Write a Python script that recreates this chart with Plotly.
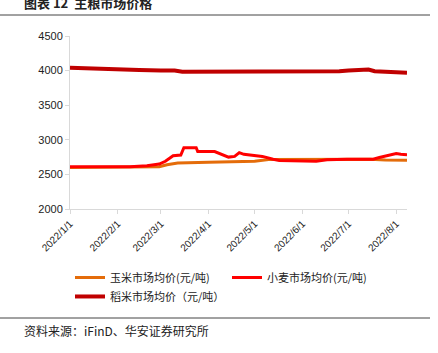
import plotly.graph_objects as go

tick_dates = ["2022-01-01", "2022-02-01", "2022-03-01", "2022-04-01",
              "2022-05-01", "2022-06-01", "2022-07-01", "2022-08-01"]
tick_labels = ["2022/1/1", "2022/2/1", "2022/3/1", "2022/4/1",
               "2022/5/1", "2022/6/1", "2022/7/1", "2022/8/1"]

corn_dates = ["2022-01-01", "2022-02-20", "2022-02-28", "2022-03-05", "2022-03-12",
              "2022-04-01", "2022-05-01", "2022-05-10", "2022-06-01", "2022-07-01",
              "2022-07-15", "2022-07-25", "2022-08-08"]
corn_vals = [2600, 2600, 2610, 2640, 2665, 2675, 2690, 2715, 2720, 2720, 2720, 2708, 2705]

wheat_dates = ["2022-01-01", "2022-02-09", "2022-02-20", "2022-02-28", "2022-03-04",
               "2022-03-09", "2022-03-14", "2022-03-16", "2022-03-24", "2022-03-25",
               "2022-04-05", "2022-04-10", "2022-04-14", "2022-04-18", "2022-04-21",
               "2022-04-24", "2022-04-30", "2022-05-06", "2022-05-13", "2022-05-17",
               "2022-06-10", "2022-06-17", "2022-06-30", "2022-07-17", "2022-07-21",
               "2022-07-28", "2022-08-01", "2022-08-04", "2022-08-08"]
wheat_vals = [2610, 2610, 2625, 2650, 2690, 2770, 2780, 2885, 2885, 2830,
              2830, 2790, 2750, 2760, 2815, 2790, 2770, 2760, 2720, 2700,
              2690, 2710, 2720, 2720, 2745, 2780, 2800, 2790, 2785]

rice_dates = ["2022-01-01", "2022-01-15", "2022-02-01", "2022-02-15", "2022-03-01",
              "2022-03-10", "2022-03-15", "2022-04-01", "2022-04-15", "2022-05-01",
              "2022-05-15", "2022-06-01", "2022-06-15", "2022-06-25", "2022-07-01",
              "2022-07-08", "2022-07-14", "2022-07-18", "2022-07-25", "2022-08-01",
              "2022-08-08"]
rice_vals = [4040, 4035, 4025, 4010, 4000, 4000, 3985, 3985, 3985, 3985,
             3978, 3980, 3985, 3990, 4000, 4010, 4015, 3992, 3988, 3980, 3970]

cjk = "Noto Sans CJK SC"

fig = go.Figure()
fig.add_trace(go.Scatter(x=corn_dates, y=corn_vals, mode="lines",
                         name="玉米市场均价(元/吨)",
                         line=dict(color="#E46C0A", width=3)))
fig.add_trace(go.Scatter(x=wheat_dates, y=wheat_vals, mode="lines",
                         name="小麦市场均价(元/吨)",
                         line=dict(color="#FF0000", width=3)))
fig.add_trace(go.Scatter(x=rice_dates, y=rice_vals, mode="lines",
                         name="稻米市场均价（元/吨）",
                         line=dict(color="#C00000", width=4)))

fig.update_layout(
    width=438, height=353,
    margin=dict(l=70, r=31, t=36, b=144),
    paper_bgcolor="white", plot_bgcolor="white",
    font=dict(family="Liberation Sans, Arial, sans-serif", size=11, color="#222"),
    showlegend=True,
    legend=dict(orientation="h", x=0.0, xanchor="left", y=-0.312, yanchor="top",
                entrywidth=112, entrywidthmode="pixels",
                font=dict(family=cjk, size=11, color="#222"),
                itemwidth=30, tracegroupgap=0, bgcolor="rgba(0,0,0,0)"),
    xaxis=dict(type="date", range=["2022-01-01", "2022-08-08"],
               tickvals=tick_dates, ticktext=tick_labels, tickangle=-45,
               showgrid=False, showline=True, linecolor="#D9D9D9", linewidth=1,
               ticks="outside", ticklen=4, tickcolor="#D9D9D9",
               tickfont=dict(size=10, color="#222")),
    yaxis=dict(range=[2000, 4500], dtick=500, tick0=2000,
               showgrid=False, showline=True, linecolor="#D9D9D9", linewidth=1,
               ticks="outside", ticklen=4, tickcolor="#D9D9D9",
               tickfont=dict(size=11, color="#222"), zeroline=False),
)

pw, ph = 438 - 70 - 31, 353 - 36 - 144

def px(xp):
    return (xp - 70) / pw

def py(yp):
    return (353 - 144 - yp) / ph

fig.add_annotation(text="<b>图表 12  主粮市场价格</b>", xref="paper", yref="paper",
                   x=px(22), y=py(2), xanchor="left", yanchor="middle", showarrow=False,
                   font=dict(family=cjk, size=13, color="#222"))
fig.add_annotation(text="资料来源：iFinD、华安证券研究所", xref="paper", yref="paper",
                   x=px(22), y=py(330), xanchor="left", yanchor="middle", showarrow=False,
                   font=dict(family=cjk, size=12, color="#222"))
fig.add_shape(type="line", xref="paper", yref="paper", x0=px(0), x1=px(430),
              y0=py(15), y1=py(15), line=dict(color="#444", width=1))
fig.add_shape(type="line", xref="paper", yref="paper", x0=px(0), x1=px(430),
              y0=py(318), y1=py(318), line=dict(color="#444", width=1))

fig.write_html("out.html")
